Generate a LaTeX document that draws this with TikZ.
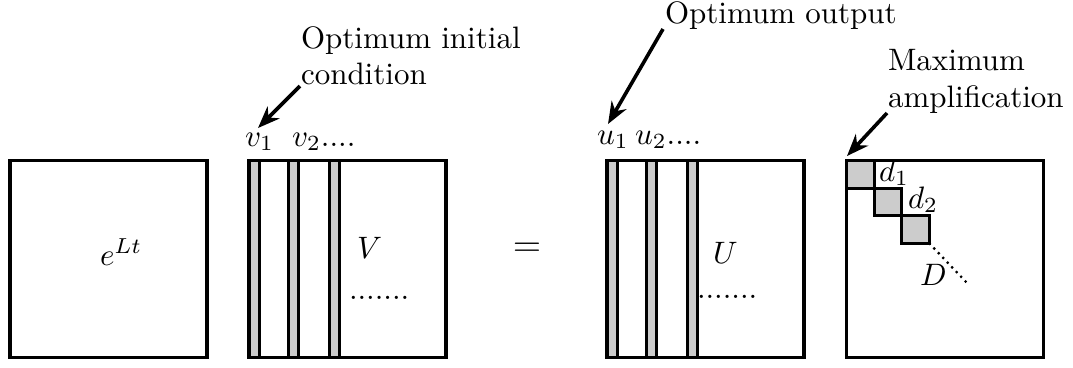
\documentclass[tikz,border=0pt]{standalone}
\usetikzlibrary{arrows.meta}
\newcommand\pxu{0.32258pt}
\begin{document}
\begin{tikzpicture}[x=0.32258pt,y=-0.32258pt,
  every node/.style={font=\fontsize{10}{12}\selectfont, inner sep=0pt, outer sep=0pt},
  matbox/.style={draw, line width=3.6*\pxu, minimum size=197*\pxu},
  strip/.style={draw, fill=black!20, line width=3*\pxu, anchor=north west, minimum width=10*\pxu, minimum height=197*\pxu},
  dsq/.style={draw, fill=black!20, line width=3*\pxu, anchor=north west, minimum size=27.5*\pxu},
  pointer/.style={line width=3.6*\pxu, -{Stealth[length=22*\pxu,width=17*\pxu]}},
  lbl/.style={anchor=base west}]
\useasboundingbox (0,0) rectangle (1073,367);

% matrices
\node[matbox] (E) at (108.5,259) {};
\node[matbox] (V) at (347.5,259) {};
\node[matbox] (U) at (705.5,259) {};
\node[matbox] (D) at (945,259) {};

% columns of V
\node[strip] (v1s) at (V.north west) {};
\node[strip] (v2s) at ([xshift=39.5*\pxu]V.north west) {};
\node[strip] (v3s) at ([xshift=80*\pxu]V.north west) {};
% columns of U
\node[strip] (u1s) at (U.north west) {};
\node[strip] (u2s) at ([xshift=39.5*\pxu]U.north west) {};
\node[strip] (u3s) at ([xshift=80*\pxu]U.north west) {};
% diagonal of D
\node[dsq] (sq1) at (D.north west) {};
\node[dsq] (sq2) at (sq1.south east) {};
\node[dsq] (sq3) at (sq2.south east) {};
\coordinate (Dend) at (967,283);
\draw[line width=2.2*\pxu, dash pattern=on 2.2*\pxu off 4.3*\pxu] (sq3.south east) -- (Dend);

% texts in matrices
\node[lbl] (eLt) at (100,265) {$e^{Lt}$};
\node[lbl] (Vt) at (357,258) {$V$};
\node[lbl] (Vdots) at (349,299) {.......};
\node[lbl] (Ut) at (713,263) {$U$};
\node[lbl] (Udots) at (697,298) {.......};
\node[lbl] (Dt) at (920,285) {$D$};
\node[lbl] (d1) at (879,181) {$d_1$};
\node[lbl] (d2) at (908,208) {$d_2$};
\node[font=\fontsize{12.9}{15}\selectfont] (eq) at (527,250) {$=$};

% column labels
\node[lbl] (v1) at (245,146) {$v_1$};
\node[lbl] (v2) at (292,146) {$v_2$....};
\node[lbl] (u1) at (597,144) {$u_1$};
\node[lbl] (u2) at (635,144) {$u_2$....};

% annotations
\node[lbl] (init1) at (301,48) {Optimum initial};
\node[lbl] (init2) at (301,84) {condition};
\node[lbl] (outp) at (665,23) {Optimum output};
\node[lbl] (max1) at (888,70) {Maximum};
\node[lbl] (max2) at (888,107) {amplification};

\coordinate (a1s) at (300,86);
\coordinate (a1e) at (258,128);
\coordinate (a2s) at (663,29);
\coordinate (a2e) at (608,124);
\coordinate (a3s) at (887,113);
\coordinate (a3e) at (847,156);
\draw[pointer] (a1s) -- (a1e);
\draw[pointer] (a2s) -- (a2e);
\draw[pointer] (a3s) -- (a3e);
\end{tikzpicture}
\end{document}
